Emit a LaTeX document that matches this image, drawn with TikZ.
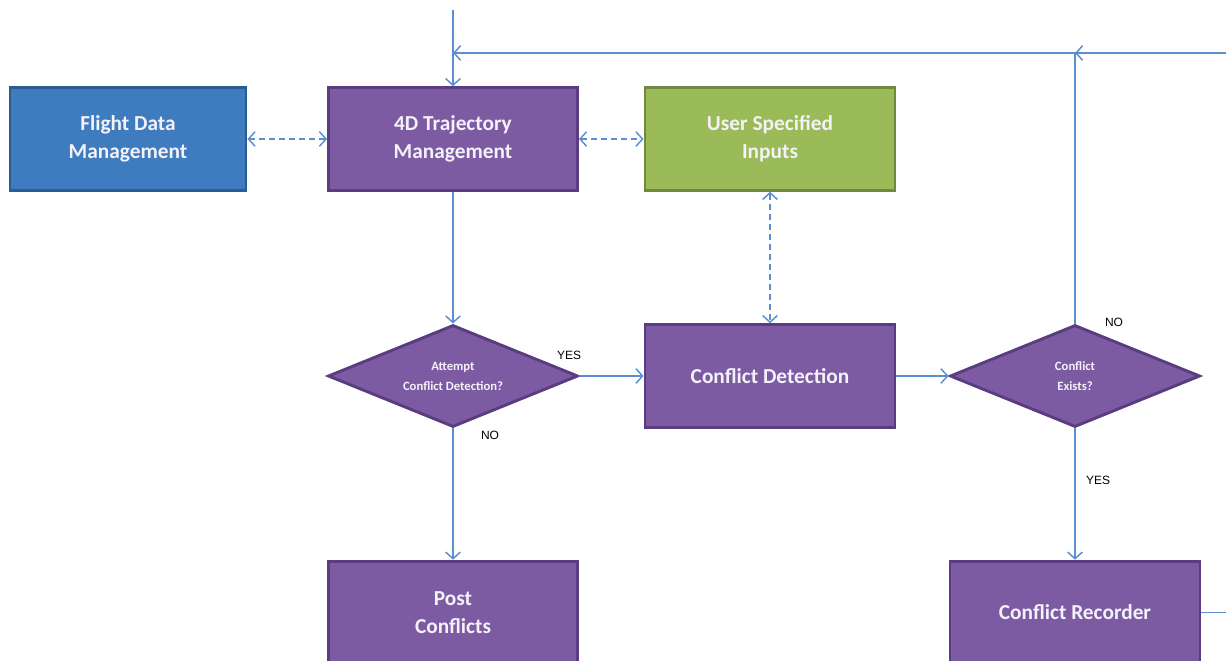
\documentclass[tikz,border=0pt]{standalone}
\usepackage{fontspec}
\setmainfont{Carlito}
\newfontfamily\labfont{Liberation Sans}
\usetikzlibrary{arrows.meta,shapes.geometric}
\definecolor{linec}{HTML}{5B8FD0}
\definecolor{purf}{HTML}{7D5BA3}
\definecolor{purd}{HTML}{5A3D80}
\definecolor{bluf}{HTML}{3F7CBF}
\definecolor{blud}{HTML}{2A5C92}
\definecolor{grnf}{HTML}{9BBB59}
\definecolor{grnd}{HTML}{71893F}
\definecolor{txtc}{HTML}{F4F1F8}
\begin{document}
\begin{tikzpicture}[x=0.75pt,y=-0.75pt,
  boxbase/.style={rectangle, line width=2.2pt, text=txtc, align=center,
    font=\bfseries\fontsize{16}{21}\selectfont, inner sep=0pt},
  purbox/.style={boxbase, fill=purf, draw=purd, minimum width=186.75pt, minimum height=77pt},
  blubox/.style={boxbase, fill=bluf, draw=blud, minimum width=177pt, minimum height=77pt},
  grnbox/.style={boxbase, fill=grnf, draw=grnd, minimum width=187.5pt, minimum height=77pt},
  decide/.style={diamond, shape aspect=2.45, fill=purf, draw=purd, line width=2.2pt,
    text=txtc, align=center, font=\bfseries\fontsize{9.5}{15}\selectfont, inner sep=0pt,
    minimum width=187.5pt, minimum height=76.5pt},
  flow/.style={draw=linec, line width=1.1pt, -{Straight Barb[length=5pt,width=11pt]}},
  plain/.style={draw=linec, line width=1.1pt},
  dflow/.style={draw=linec, line width=1.1pt, dash pattern=on 4.5pt off 3pt,
    {Straight Barb[length=5pt,width=11pt]}-{Straight Barb[length=5pt,width=11pt]}},
  lab/.style={font=\labfont\fontsize{9}{11}\selectfont, text=black, inner sep=0pt}
]
\useasboundingbox (0,0) rectangle (1226,660);

\node[blubox] (fdm) at (128,139) {Flight Data\\Management};
\node[purbox] (traj) at (453,139) {4D Trajectory\\Management};
\node[grnbox] (usi) at (770,139) {User Specified\\Inputs};
\node[decide] (att) at (453,376) {Attempt\\Conflict Detection?};
\node[purbox, minimum width=187.5pt] (cd) at (770,376) {Conflict Detection};
\node[decide] (ce) at (1075,376) {Conflict\\Exists?};
\node[purbox] (post) at (453,612.5) {Post\\Conflicts};
\node[purbox, minimum width=187.5pt] (cr) at (1075,612.5) {Conflict Recorder};

\coordinate (top) at (453,10);
\coordinate (j1) at (453,53);
\coordinate (j2) at (1075,53);
\coordinate (rt) at (1226,53);
\coordinate (rr) at (1226,612.5);

\draw[flow] (top) -- (traj.north -| top);
\draw[flow] (ce.north) -- (j2) -- (j1);
\draw[flow] (rt) -- (j2);
\draw[plain] (cr.east) -- (rr);

\draw[dflow] (fdm.east) -- (traj.west);
\draw[dflow] (traj.east) -- (usi.west);
\draw[dflow] (usi.south) -- (cd.north);

\draw[flow] (traj.south -| att.north) -- (att.north);
\draw[flow] (att.east) -- (cd.west);
\draw[flow] (att.south) -- (post.north -| att.south);
\draw[flow] (cd.east) -- (ce.west);
\draw[flow] (ce.south) -- (cr.north -| ce.south);

\node[lab] (lyes1) at (569,355) {YES};
\node[lab] (lno1) at (490,435) {NO};
\node[lab] (lno2) at (1114,322) {NO};
\node[lab] (lyes2) at (1098,480) {YES};
\end{tikzpicture}
\end{document}
